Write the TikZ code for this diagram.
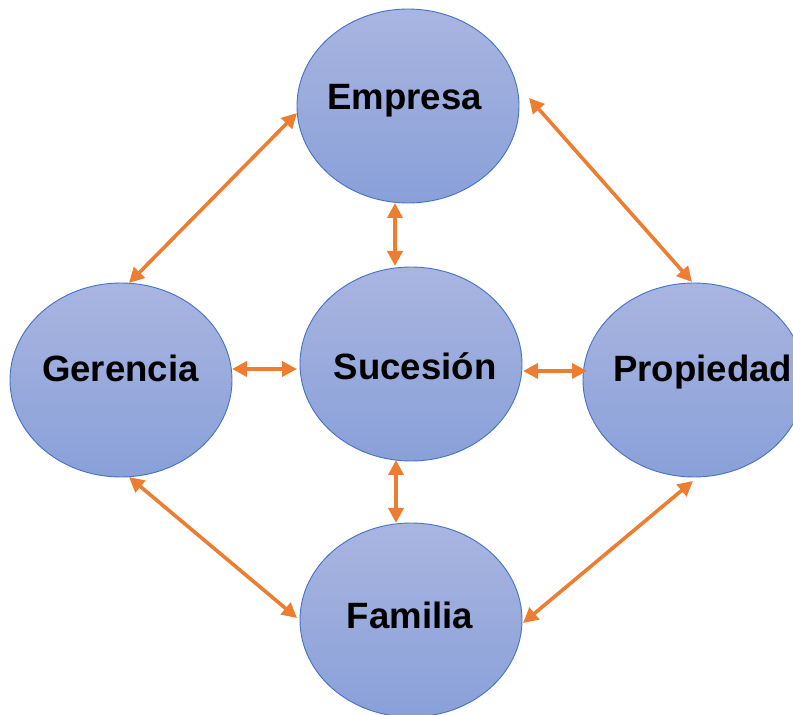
\documentclass[tikz,border=0pt]{standalone}
\usepackage{fontspec}
\setmainfont{Liberation Sans}
\usetikzlibrary{arrows.meta,shapes.geometric}
\definecolor{circtop}{RGB}{169,181,225}
\definecolor{circbot}{RGB}{137,160,216}
\definecolor{circline}{RGB}{68,114,196}
\definecolor{link}{RGB}{237,125,49}
\begin{document}
\begin{tikzpicture}[x=1pt,y=1pt,
  blob/.style={ellipse, minimum width=222pt, minimum height=194pt, inner sep=0pt,
    draw=circline, line width=0.9pt, top color=circtop, bottom color=circbot},
  word/.style={inner sep=0pt, font=\fontsize{36.6}{40}\selectfont\bfseries},
  both/.style={draw=link, line width=3.6pt,
    {Triangle[length=15pt,width=15pt]}-{Triangle[length=15pt,width=15pt]}}]
\useasboundingbox (0,0) rectangle (793,715);
% the five circles
\node[blob] (emp) at (408,609) {};
\node[blob] (ger) at (121,335) {};
\node[blob] (suc) at (411,351) {};
\node[blob] (pro) at (694,335) {};
\node[blob] (fam) at (411,95) {};
% their labels
\node[word, anchor=base] (temp) at (404.5,605) {Empresa};
\node[word, anchor=base] (tger) at (120.5,333) {Gerencia};
\node[word, anchor=base] (tsuc) at (415,335) {Sucesión};
\node[word, anchor=base west] (tpro) at (613,333) {Propiedad};
\node[word, anchor=base] (tfam) at (410,86) {Familia};
% arrow ends beside each circle
\coordinate (e1) at (297,602);  \coordinate (g1) at (129,432);
\coordinate (e2) at (529,617);  \coordinate (p1) at (692,433);
\coordinate (g2) at (232,346);  \coordinate (s1) at (297,346);
\coordinate (s2) at (523,344);  \coordinate (p2) at (587,344);
\coordinate (e3) at (395,512);  \coordinate (s3) at (395,449);
\coordinate (s4) at (396,255);  \coordinate (f1) at (396,192);
\coordinate (g3) at (129,238);  \coordinate (f2) at (297,97);
\coordinate (p3) at (693,234);  \coordinate (f3) at (523,92);
% two-way links
\draw[both] (e1) -- (g1);
\draw[both] (e2) -- (p1);
\draw[both] (g2) -- (s1);
\draw[both] (s2) -- (p2);
\draw[both] (e3) -- (s3);
\draw[both] (s4) -- (f1);
\draw[both] (g3) -- (f2);
\draw[both] (p3) -- (f3);
\end{tikzpicture}
\end{document}
